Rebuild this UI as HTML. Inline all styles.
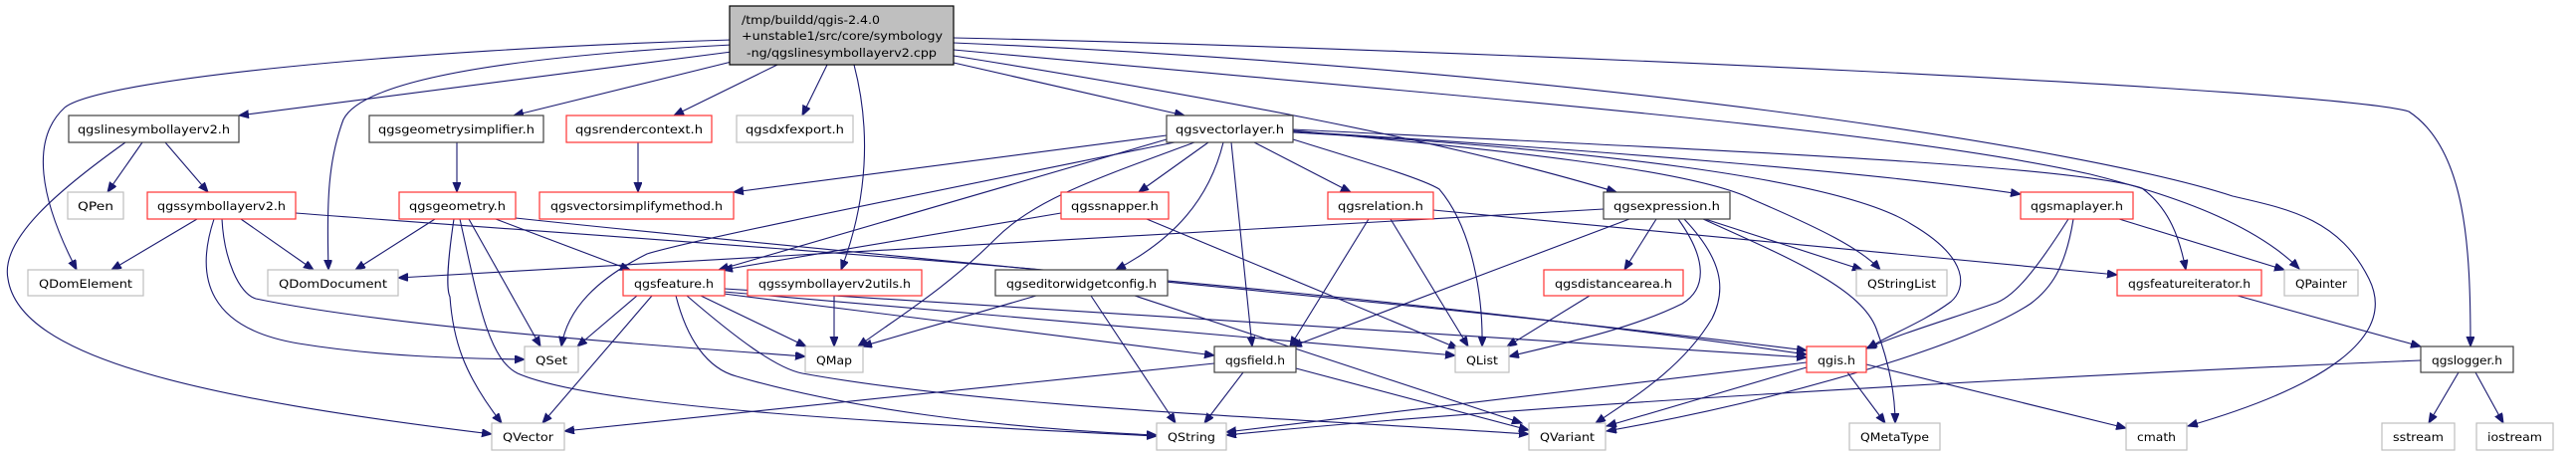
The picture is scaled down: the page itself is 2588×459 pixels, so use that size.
<!DOCTYPE html>
<html><head><meta charset="utf-8"><style>
html,body{margin:0;padding:0;background:#fff;}
svg{display:block;}
text{font-family:"DejaVu Sans","Liberation Sans",sans-serif;font-size:11.5px;fill:#000;}
.e{fill:none;stroke:#191970;stroke-width:1.1;}
.r{fill:#fff;stroke:#ff3333;stroke-width:1.2;}
.b{fill:#fff;stroke:#404040;stroke-width:1.2;}
.g{fill:#fff;stroke:#bfbfbf;stroke-width:1.2;}
</style></head><body>
<svg width="2588" height="459" viewBox="0 0 2588 459" xmlns="http://www.w3.org/2000/svg">
<defs>
<marker id="a" markerUnits="userSpaceOnUse" markerWidth="12" markerHeight="10" refX="10" refY="4" orient="auto">
<path d="M0,0 L10,4 L0,8 z" fill="#191970" stroke="#191970"/>
</marker>
</defs>
<g marker-end="url(#a)">
<!-- main -->
<path class="e" d="M735,52 L240,116"/>
<path class="e" d="M735,40 C400,50 100,80 65,108 C30,140 40,200 77,271"/>
<path class="e" d="M735,45 C450,60 360,90 345,120 C330,160 328,200 330,271"/>
<path class="e" d="M735,62 L516,116"/>
<path class="e" d="M781,65 L677,116"/>
<path class="e" d="M831,65 L806,116"/>
<path class="e" d="M858,65 C875,130 872,200 845,271"/>
<path class="e" d="M958,63 L1190,116"/>
<path class="e" d="M958,56 C1200,95 1450,140 1624,193"/>
<path class="e" d="M958,38 C1500,50 2350,90 2420,112 C2478,150 2482,250 2482,348"/>
<path class="e" d="M958,43 C1600,70 2100,150 2243,197 C2300,210 2350,220 2380,280 C2410,340 2330,390 2198,428"/>
<path class="e" d="M958,50 C1500,100 1900,130 2100,175 C2200,200 2270,230 2310,270"/>
<!-- vectorlayer -->
<path class="e" d="M1172,136 L737,193"/>
<path class="e" d="M1172,140 L722,271"/>
<path class="e" d="M1180,143 C900,200 700,240 650,255 C600,280 570,310 564,348"/>
<path class="e" d="M1200,143 C1100,180 1040,200 1000,240 C950,290 900,320 862,348"/>
<path class="e" d="M1214,143 L1144,193"/>
<path class="e" d="M1229,143 C1215,200 1180,240 1121,271"/>
<path class="e" d="M1237,143 L1258,348"/>
<path class="e" d="M1260,143 L1357,193"/>
<path class="e" d="M1299,140 C1380,165 1430,180 1446,190 C1480,230 1490,300 1489,348"/>
<path class="e" d="M1299,131 C1500,150 1700,170 1760,200 C1830,230 1870,250 1889,271"/>
<path class="e" d="M1299,133 C1600,150 1850,180 1920,225 C1980,260 1975,290 1960,303 C1930,325 1900,335 1876,350"/>
<path class="e" d="M1299,132 C1600,150 1900,175 2030,195"/>
<path class="e" d="M1299,130 C1700,150 2080,165 2152,189 C2180,210 2190,240 2196,271"/>
<!-- linesymbollayer -->
<path class="e" d="M143,143 L108,193"/>
<path class="e" d="M166,143 L209,193"/>
<path class="e" d="M126,143 C60,190 0,240 8,280 C20,360 200,400 494,436"/>
<!-- symbollayerv2 -->
<path class="e" d="M198,220 L112,271"/>
<path class="e" d="M242,220 L315,271"/>
<path class="e" d="M215,220 C195,280 210,330 300,345 C380,358 460,360 527,361"/>
<path class="e" d="M223,220 C225,260 240,295 257,300 C400,330 700,350 809,358"/>
<path class="e" d="M297,214 C700,245 1300,280 1815,356"/>
<!-- geometry -->
<path class="e" d="M437,220 L357,271"/>
<path class="e" d="M471,220 L543,348"/>
<path class="e" d="M456,220 C450,260 448,290 452,298 C455,340 465,375 504,425"/>
<path class="e" d="M462,220 C480,300 490,360 520,375 C600,410 900,425 1162,438"/>
<path class="e" d="M498,220 L633,271"/>
<path class="e" d="M518,219 C900,260 1400,300 1815,352"/>
<path class="e" d="M641,143 L641,193"/>
<path class="e" d="M459,143 L459,193"/>
<!-- feature -->
<path class="e" d="M640,297 L580,348"/>
<path class="e" d="M655,297 L545,425"/>
<path class="e" d="M704,297 L810,348"/>
<path class="e" d="M679,297 C690,340 710,370 740,378 C850,410 1000,430 1162,437"/>
<path class="e" d="M690,297 C740,340 780,370 806,375 C1000,410 1300,420 1536,436"/>
<path class="e" d="M727,295 L1220,357"/>
<path class="e" d="M727,293 L1462,357"/>
<path class="e" d="M728,290 L1815,359"/>
<!-- symbollayerv2utils -->
<path class="e" d="M838,297 L838,348"/>
<!-- snapper -->
<path class="e" d="M1066,214 L726,271"/>
<path class="e" d="M1152,220 L1465,350"/>
<!-- editorwidgetconfig -->
<path class="e" d="M1041,297 L866,348"/>
<path class="e" d="M1096,297 L1181,425"/>
<path class="e" d="M1140,297 L1529,425"/>
<!-- relation -->
<path class="e" d="M1375,220 L1296,348"/>
<path class="e" d="M1397,220 L1475,348"/>
<path class="e" d="M1440,211 L2127,276"/>
<!-- expression -->
<path class="e" d="M1611,210 L400,279"/>
<path class="e" d="M1637,220 L1298,348"/>
<path class="e" d="M1664,220 L1632,271"/>
<path class="e" d="M1686,220 C1715,260 1715,290 1690,305 C1640,330 1570,345 1516,358"/>
<path class="e" d="M1692,220 C1730,260 1735,290 1720,320 C1690,370 1640,400 1603,425"/>
<path class="e" d="M1713,220 L1871,271"/>
<path class="e" d="M1711,220 C1800,260 1870,290 1885,330 C1900,370 1904,400 1904,425"/>
<path class="e" d="M1597,297 L1514,348"/>
<!-- field -->
<path class="e" d="M1249,374 L1210,425"/>
<path class="e" d="M1302,370 L1536,432"/>
<path class="e" d="M1220,365 L567,433"/>
<!-- qgis -->
<path class="e" d="M1815,364 L1232,434"/>
<path class="e" d="M1815,369 L1614,428"/>
<path class="e" d="M1856,374 L1894,425"/>
<path class="e" d="M1875,366 L2136,430"/>
<!-- maplayer -->
<path class="e" d="M2078,220 C2040,280 2020,300 2003,305 C1960,320 1910,335 1875,350"/>
<path class="e" d="M2083,220 C2075,270 2060,290 2040,305 C1980,345 1800,400 1614,433"/>
<path class="e" d="M2129,220 L2295,271"/>
<!-- featureiterator / logger -->
<path class="e" d="M2248,297 L2432,348"/>
<path class="e" d="M2432,362 C2000,380 1500,410 1232,437"/>
<path class="e" d="M2470,374 L2440,425"/>
<path class="e" d="M2487,374 L2515,425"/>
</g>

<!-- nodes -->
<rect x="733" y="6" width="225" height="59" fill="#bfbfbf" stroke="#000" stroke-width="1.2"/>
<text x="745" y="24" textLength="139" lengthAdjust="spacingAndGlyphs">/tmp/buildd/qgis-2.4.0</text>
<text x="745" y="40" textLength="202" lengthAdjust="spacingAndGlyphs">+unstable1/src/core/symbology</text>
<text x="750" y="57" textLength="191" lengthAdjust="spacingAndGlyphs">-ng/qgslinesymbollayerv2.cpp</text>

<rect class="b" x="69" y="116" width="171" height="27"/><text x="78" y="134" textLength="153" lengthAdjust="spacingAndGlyphs">qgslinesymbollayerv2.h</text>
<rect class="b" x="371" y="116" width="175" height="27"/><text x="380" y="134" textLength="157" lengthAdjust="spacingAndGlyphs">qgsgeometrysimplifier.h</text>
<rect class="r" x="569" y="116" width="146" height="27"/><text x="578" y="134" textLength="128" lengthAdjust="spacingAndGlyphs">qgsrendercontext.h</text>
<rect class="g" x="740" y="116" width="117" height="27"/><text x="749" y="134" textLength="99" lengthAdjust="spacingAndGlyphs">qgsdxfexport.h</text>
<rect class="b" x="1172" y="116" width="127" height="27"/><text x="1181" y="134" textLength="109" lengthAdjust="spacingAndGlyphs">qgsvectorlayer.h</text>

<rect class="g" x="68" y="193" width="56" height="27"/><text x="78" y="211" textLength="36" lengthAdjust="spacingAndGlyphs">QPen</text>
<rect class="r" x="148" y="193" width="149" height="27"/><text x="158" y="211" textLength="129" lengthAdjust="spacingAndGlyphs">qgssymbollayerv2.h</text>
<rect class="r" x="401" y="193" width="117" height="27"/><text x="411" y="211" textLength="97" lengthAdjust="spacingAndGlyphs">qgsgeometry.h</text>
<rect class="r" x="542" y="193" width="195" height="27"/><text x="553" y="211" textLength="173" lengthAdjust="spacingAndGlyphs">qgsvectorsimplifymethod.h</text>
<rect class="r" x="1066" y="193" width="108" height="27"/><text x="1076" y="211" textLength="88" lengthAdjust="spacingAndGlyphs">qgssnapper.h</text>
<rect class="r" x="1334" y="193" width="106" height="27"/><text x="1344" y="211" textLength="86" lengthAdjust="spacingAndGlyphs">qgsrelation.h</text>
<rect class="b" x="1611" y="193" width="127" height="27"/><text x="1621" y="211" textLength="107" lengthAdjust="spacingAndGlyphs">qgsexpression.h</text>
<rect class="r" x="2030" y="193" width="113" height="27"/><text x="2040" y="211" textLength="93" lengthAdjust="spacingAndGlyphs">qgsmaplayer.h</text>

<rect class="g" x="28" y="271" width="116" height="26"/><text x="39" y="289" textLength="94" lengthAdjust="spacingAndGlyphs">QDomElement</text>
<rect class="g" x="269" y="271" width="131" height="26"/><text x="280" y="289" textLength="109" lengthAdjust="spacingAndGlyphs">QDomDocument</text>
<rect class="r" x="626" y="271" width="102" height="26"/><text x="637" y="289" textLength="80" lengthAdjust="spacingAndGlyphs">qgsfeature.h</text>
<rect class="r" x="751" y="271" width="175" height="26"/><text x="762" y="289" textLength="153" lengthAdjust="spacingAndGlyphs">qgssymbollayerv2utils.h</text>
<rect class="b" x="1000" y="271" width="173" height="26"/><text x="1011" y="289" textLength="151" lengthAdjust="spacingAndGlyphs">qgseditorwidgetconfig.h</text>
<rect class="r" x="1551" y="271" width="140" height="26"/><text x="1562" y="289" textLength="118" lengthAdjust="spacingAndGlyphs">qgsdistancearea.h</text>
<rect class="g" x="1865" y="271" width="91" height="26"/><text x="1876" y="289" textLength="69" lengthAdjust="spacingAndGlyphs">QStringList</text>
<rect class="r" x="2127" y="271" width="145" height="26"/><text x="2138" y="289" textLength="123" lengthAdjust="spacingAndGlyphs">qgsfeatureiterator.h</text>
<rect class="g" x="2295" y="271" width="74" height="26"/><text x="2306" y="289" textLength="52" lengthAdjust="spacingAndGlyphs">QPainter</text>

<rect class="g" x="527" y="348" width="54" height="26"/><text x="538" y="366" textLength="32" lengthAdjust="spacingAndGlyphs">QSet</text>
<rect class="g" x="809" y="348" width="58" height="26"/><text x="820" y="366" textLength="36" lengthAdjust="spacingAndGlyphs">QMap</text>
<rect class="b" x="1220" y="348" width="82" height="26"/><text x="1231" y="366" textLength="60" lengthAdjust="spacingAndGlyphs">qgsfield.h</text>
<rect class="g" x="1462" y="348" width="54" height="26"/><text x="1473" y="366" textLength="32" lengthAdjust="spacingAndGlyphs">QList</text>
<rect class="r" x="1815" y="348" width="60" height="26"/><text x="1826" y="366" textLength="38" lengthAdjust="spacingAndGlyphs">qgis.h</text>
<rect class="b" x="2432" y="348" width="93" height="26"/><text x="2443" y="366" textLength="71" lengthAdjust="spacingAndGlyphs">qgslogger.h</text>

<rect class="g" x="494" y="425" width="73" height="27"/><text x="505" y="443" textLength="51" lengthAdjust="spacingAndGlyphs">QVector</text>
<rect class="g" x="1162" y="425" width="70" height="27"/><text x="1173" y="443" textLength="48" lengthAdjust="spacingAndGlyphs">QString</text>
<rect class="g" x="1536" y="425" width="77" height="27"/><text x="1547" y="443" textLength="55" lengthAdjust="spacingAndGlyphs">QVariant</text>
<rect class="g" x="1858" y="425" width="91" height="27"/><text x="1869" y="443" textLength="69" lengthAdjust="spacingAndGlyphs">QMetaType</text>
<rect class="g" x="2136" y="425" width="61" height="27"/><text x="2147" y="443" textLength="39" lengthAdjust="spacingAndGlyphs">cmath</text>
<rect class="g" x="2393" y="425" width="73" height="27"/><text x="2404" y="443" textLength="51" lengthAdjust="spacingAndGlyphs">sstream</text>
<rect class="g" x="2488" y="425" width="77" height="27"/><text x="2499" y="443" textLength="55" lengthAdjust="spacingAndGlyphs">iostream</text>
</svg>
</body></html>
